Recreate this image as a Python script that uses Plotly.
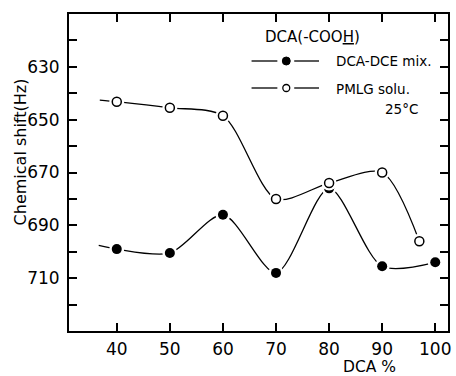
import plotly.graph_objects as go

# ---- data ----
dca_pct = [40, 50, 60, 70, 80, 90, 100]
mix_shift = [699, 700.5, 686, 708, 676, 705.5, 704]          # DCA-DCE mix. (filled)
pmlg_pct = [40, 50, 60, 70, 80, 90, 97]
pmlg_shift = [643.2, 645.5, 648.5, 680, 674, 670, 696]      # PMLG solu. (open)
# short lead-in of the drawn curves, left of the first point
mix_lead = (36.6, 697.6)
pmlg_lead = (36.8, 642.6)

x_ticks = [40, 50, 60, 70, 80, 90, 100]
y_ticks = [620, 630, 640, 650, 660, 670, 680, 690, 700, 710, 720]
y_labels = ["", "630", "", "650", "", "670", "", "690", "", "710", ""]

FONT = "DejaVu Sans"
W, H = 456, 376
L, R, T, B = 69, 5, 14, 45

fig = go.Figure()

def series(xs, ys, lead, filled):
    cx = [lead[0]] + xs
    cy = [lead[1]] + ys
    fig.add_trace(go.Scatter(x=cx, y=cy, mode="lines",
                             line=dict(color="black", width=1.3, shape="spline", smoothing=0.8),
                             hoverinfo="skip", showlegend=False))
    # white halo to create the small gaps around markers
    fig.add_trace(go.Scatter(x=xs, y=ys, mode="markers",
                             marker=dict(size=15, color="white", line=dict(width=0)),
                             hoverinfo="skip", showlegend=False))
    if filled:
        mk = dict(size=10, color="black", line=dict(color="black", width=0))
    else:
        mk = dict(size=9, color="white", line=dict(color="black", width=1.5))
    fig.add_trace(go.Scatter(x=xs, y=ys, mode="markers", marker=mk, showlegend=False))

series(dca_pct, mix_shift, mix_lead, True)
series(pmlg_pct, pmlg_shift, pmlg_lead, False)

pw, ph = W - L - R, H - T - B
def px(x): return (x - L) / pw
def py(y): return (H - B - y) / ph

# legend drawn in paper coordinates
shapes = []
for yy in (61, 88):
    shapes.append(dict(type="line", xref="paper", yref="paper",
                       x0=px(253), x1=px(279), y0=py(yy), y1=py(yy),
                       line=dict(color="black", width=1.3)))
    shapes.append(dict(type="line", xref="paper", yref="paper",
                       x0=px(296), x1=px(321), y0=py(yy), y1=py(yy),
                       line=dict(color="black", width=1.3)))
shapes.append(dict(type="circle", xref="paper", yref="paper",
                   x0=px(284), x1=px(292), y0=py(57), y1=py(65),
                   fillcolor="black", line=dict(color="black", width=1)))
shapes.append(dict(type="circle", xref="paper", yref="paper",
                   x0=px(284.5), x1=px(291.5), y0=py(84.5), y1=py(91.5),
                   fillcolor="white", line=dict(color="black", width=1.3)))

def ann(text, x, y, size, xanchor="center", angle=0):
    return dict(text=text, x=px(x), y=py(y), xref="paper", yref="paper",
                xanchor=xanchor, yanchor="middle", textangle=angle, showarrow=False,
                font=dict(family=FONT, size=size, color="black"))

annotations = [
    ann('DCA(-COO<span style="text-decoration:underline">H</span>)', 314, 37, 15),
    ann("DCA-DCE mix.", 336, 61, 13.5, "left"),
    ann("PMLG solu.", 336, 89, 13.5, "left"),
    ann("25°C", 404, 109, 13.5),
    ann("DCA %", 372, 367, 15.5),
    ann("Chemical shift(Hz)", 20, 152, 16, angle=-90),
]

fig.update_layout(
    width=W, height=H,
    margin=dict(l=L, r=R, t=T, b=B, pad=0),
    paper_bgcolor="white", plot_bgcolor="white",
    font=dict(family=FONT, size=16, color="black"),
    shapes=shapes, annotations=annotations,
    showlegend=False,
)
fig.update_xaxes(range=[31, 102.4], tickmode="array", tickvals=x_ticks,
                 ticks="inside", ticklen=8, tickwidth=1.5, tickcolor="black",
                 showline=True, linecolor="black", linewidth=2, mirror="allticks",
                 showgrid=False, zeroline=False,
                 tickfont=dict(family=FONT, size=17), ticklabelstandoff=2)
fig.update_yaxes(range=[730, 610], tickmode="array", tickvals=y_ticks, ticktext=y_labels,
                 ticks="inside", ticklen=8, tickwidth=1.5, tickcolor="black",
                 showline=True, linecolor="black", linewidth=2, mirror="allticks",
                 showgrid=False, zeroline=False,
                 tickfont=dict(family=FONT, size=17), ticklabelstandoff=4)

fig.write_html("out.html")
